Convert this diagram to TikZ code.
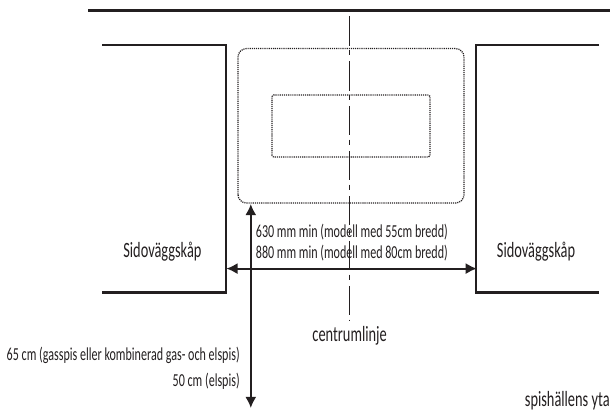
\documentclass[tikz,border=0pt]{standalone}
\usepackage{fontspec}
\setmainfont[FakeStretch=0.66]{Carlito}
\usetikzlibrary{arrows.meta, positioning}
\definecolor{inkblack}{HTML}{231F20}
\tikzset{
    cabinet/.style={color=inkblack, line width=1.8pt},
    zone/.style={color=inkblack, line width=0.9pt, dash pattern=on 0.8pt off 0.7pt},
    measure/.style={color=inkblack, line width=1.4pt, {Latex[length=8pt,width=8pt]}-{Latex[length=8pt,width=8pt]}},
    label/.style={color=inkblack, inner sep=0pt, font=\fontsize{13}{15}\selectfont},
    biglabel/.style={color=inkblack, inner sep=0pt, font=\fontsize{15.5}{17}\selectfont}
}
\begin{document}
\begin{tikzpicture}
    \useasboundingbox (0,0) rectangle (15.25,10.275);
    \draw[color=inkblack, line width=2.6pt] (2.2,10.0125) -- (15.25,10.0125);
    \draw[cabinet] (2.55,9.15) -- (5.65,9.15) -- (5.65,2.9625) -- (2.55,2.9625);
    \draw[cabinet] (14.975,9.15) -- (11.9,9.15) -- (11.9,2.9625) -- (14.975,2.9625);
    \draw[zone, rounded corners=6pt] (5.95,5.2) rectangle (11.6,9.06);
    \draw[zone, rounded corners=1pt] (6.8,6.35) rectangle (10.75,7.9);
    \draw[color=inkblack, line width=1.1pt, dash pattern=on 21pt off 3pt on 4pt off 4pt]
        (8.74,9.875) -- (8.74,2.275);

    \coordinate (wallL) at (5.66,3.56);
    \coordinate (wallR) at (11.92,3.56);
    \coordinate (zoneB) at (6.27,5.175);
    \coordinate (floorB) at (6.27,0.075);
    \draw[measure] (wallL) -- (wallR);
    \draw[measure] (zoneB) -- (floorB);

    \node[label, anchor=base west] (deep55) at (6.39,4.33) {630 mm min (modell med 55cm bredd)};
    \node[label, anchor=base west] (deep80) at (6.39,3.825) {880 mm min (modell med 80cm bredd)};
    \node[biglabel] (cabL) at (4.06,3.98) {Sidoväggskåp};
    \node[biglabel] (cabR) at (13.4,3.98) {Sidoväggskåp};
    \node[biglabel, anchor=base] (center) at (8.74,1.73) {centrumlinje};
    \node[label, anchor=base east] (gasel) at (6,1.275) {65 cm (gasspis eller kombinerad gas- och elspis)};
    \node[label, anchor=base east] (el) at (6,0.625) {50 cm (elspis)};
    \node[biglabel, anchor=base east] (hob) at (15.25,0.125) {spishällens yta};
\end{tikzpicture}
\end{document}
